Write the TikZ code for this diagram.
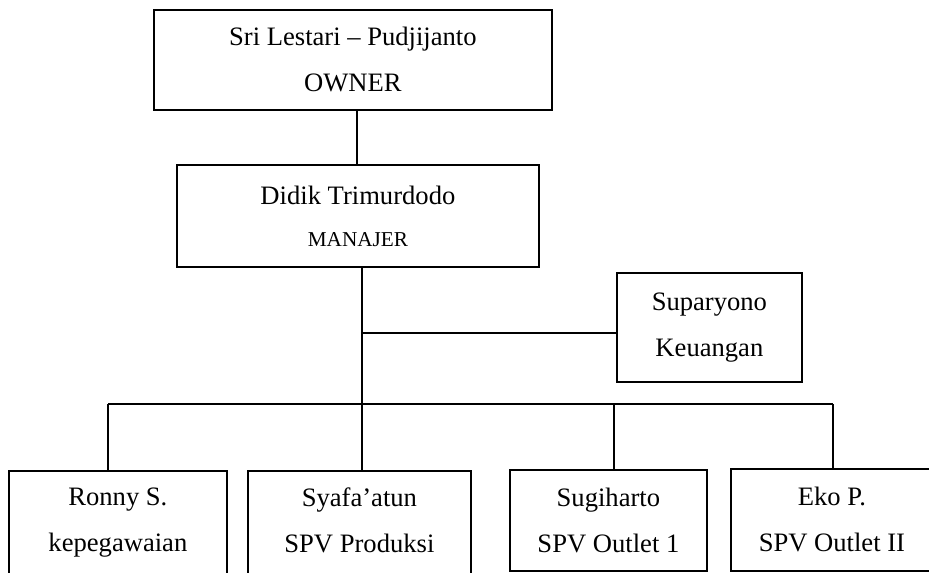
\documentclass[tikz,border=0pt]{standalone}
\usepackage{fontspec}
\setmainfont{Liberation Serif}

\begin{document}
\begin{tikzpicture}[
    x=0.5pt,y=-0.5pt,
    line width=0.9pt,
    kotak/.style={draw,inner sep=0pt,align=center,anchor=north west,
      font=\fontsize{13.3}{23}\selectfont},
    ]
  \clip (0,0) rectangle (929,572);
  % boxes
  \node[kotak,minimum width=199pt,minimum height=50pt] (owner) at (153,9)
    {Sri Lestari -- Pudjijanto\\OWNER};
  \node[kotak,minimum width=181pt,minimum height=51pt] (mgr) at (176,164)
    {Didik Trimurdodo\\[-2pt]{\fontsize{10.6}{23}\selectfont MANAJER}};
  \node[kotak,minimum width=92.5pt,minimum height=54.5pt] (keu) at (616,272)
    {Suparyono\\Keuangan};
  \node[kotak,minimum width=109pt,minimum height=52pt] (ronny) at (8,470)
    {Ronny S.\\kepegawaian};
  \node[kotak,minimum width=111.5pt,minimum height=52pt] (syafa) at (247,470)
    {Syafa'atun\\SPV Produksi\vphantom{p}};
  \node[kotak,minimum width=98.5pt,minimum height=50.5pt] (sugi) at (509,469)
    {Sugiharto\\SPV Outlet 1};
  \node[kotak,minimum width=101pt,minimum height=51pt] (eko) at (730,468)
    {Eko P.\\SPV Outlet II};
  % lines
  \coordinate (bus) at (362,404);
  \coordinate (b1) at (108,404);
  \coordinate (b3) at (614,404);
  \coordinate (b4) at (833,404);
  \draw ([xshift=-0.5pt]mgr.north) -- ([xshift=-0.5pt]mgr.north |- owner.south);
  \draw (bus |- mgr.south) -- (bus |- syafa.north);
  \draw ([yshift=-2.75pt]keu.west) -- ([yshift=-2.75pt]keu.west -| bus);
  \draw (b1) -- (b4);
  \draw (b1) -- (b1 |- ronny.north);
  \draw (b3) -- (b3 |- sugi.north);
  \draw (b4) -- (b4 |- eko.north);
\end{tikzpicture}
\end{document}
